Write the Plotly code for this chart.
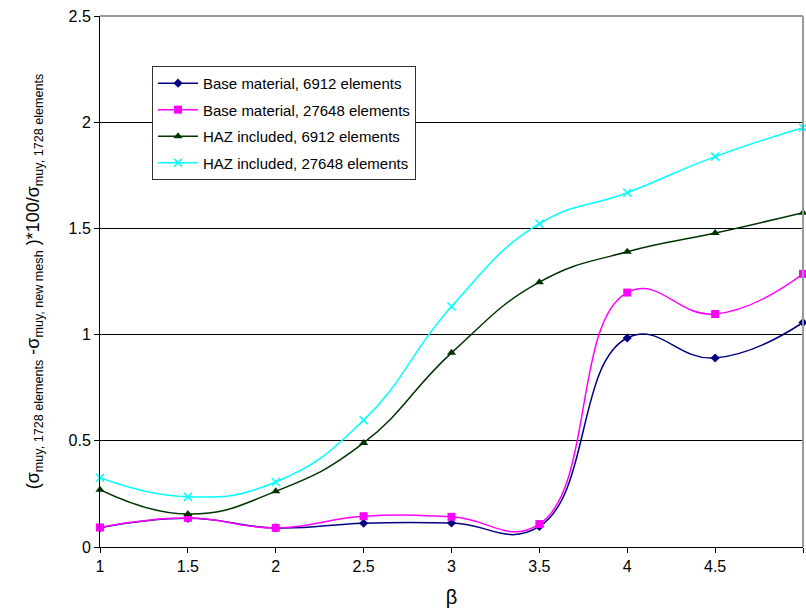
import plotly.graph_objects as go

beta = [1, 1.5, 2, 2.5, 3, 3.5, 4, 4.5, 5]

base_6912 = [0.09, 0.135, 0.09, 0.112, 0.113, 0.097, 0.984, 0.89, 1.057]
base_27648 = [0.092, 0.137, 0.09, 0.145, 0.142, 0.108, 1.198, 1.097, 1.286]
haz_6912 = [0.27, 0.155, 0.262, 0.49, 0.914, 1.247, 1.39, 1.478, 1.574]
haz_27648 = [0.326, 0.236, 0.306, 0.597, 1.132, 1.522, 1.668, 1.838, 1.974]

x_ticks = [1, 1.5, 2, 2.5, 3, 3.5, 4, 4.5, 5]
x_tick_text = ["1", "1.5", "2", "2.5", "3", "3.5", "4", "4.5", "5"]
y_ticks = [0, 0.5, 1, 1.5, 2, 2.5]
y_tick_text = ["0", "0.5", "1", "1.5", "2", "2.5"]

FONT = "Liberation Sans, Arial, sans-serif"

series = [
    ("Base material, 6912 elements", base_6912, "#000080",
     dict(symbol="diamond", size=7)),
    ("Base material, 27648 elements", base_27648, "#FF00FF",
     dict(symbol="square", size=8)),
    ("HAZ included, 6912 elements", haz_6912, "#003300",
     dict(symbol="triangle-up", size=8)),
    ("HAZ included, 27648 elements", haz_27648, "#00FFFF",
     dict(symbol="x-thin", size=8, line=dict(width=1.5, color="#00FFFF"))),
]

fig = go.Figure()
for i, (name, vals, color, mk) in enumerate(series):
    marker = dict(color=color, **mk)
    fig.add_trace(go.Scatter(
        x=beta, y=vals, name=name, mode="lines+markers",
        legendgroup=f"g{i}",
        line=dict(color=color, width=1.5, shape="spline", smoothing=1.3),
        marker=marker, cliponaxis=False,
    ))

fig.update_layout(
    width=806, height=614,
    margin=dict(l=100, r=3, t=16, b=67),
    paper_bgcolor="white", plot_bgcolor="white",
    font=dict(family=FONT, size=15, color="black"),
    showlegend=True,
    legend=dict(
        x=0.074, y=0.906, xanchor="left", yanchor="top",
        bgcolor="white", bordercolor="#333333", borderwidth=1,
        font=dict(family=FONT, size=15, color="black"),
        tracegroupgap=4, itemwidth=40,
    ),
    xaxis=dict(
        range=[1, 5], tickvals=x_ticks, ticktext=x_tick_text,
        showgrid=False, zeroline=False,
        showline=True, linecolor="black", linewidth=1,
        ticks="outside", ticklen=5, tickcolor="black",
        tickfont=dict(family=FONT, size=16),
        title=dict(text="β", font=dict(family=FONT, size=20), standoff=15),
    ),
    yaxis=dict(
        range=[0, 2.5], tickvals=y_ticks, ticktext=y_tick_text,
        showgrid=True, gridcolor="black", gridwidth=1,
        zeroline=False,
        showline=True, linecolor="black", linewidth=1,
        ticks="outside", ticklen=5, tickcolor="black",
        tickfont=dict(family=FONT, size=16),
        title=dict(
            text="(σ<sub>muy, 1728 elements</sub> -σ<sub>muy, new mesh</sub> )*100/σ<sub>muy, 1728 elements</sub>",
            font=dict(family=FONT, size=18), standoff=24,
        ),
    ),
    shapes=[
        dict(type="line", xref="paper", yref="paper", x0=0, x1=1, y0=1, y1=1,
             line=dict(color="#999999", width=2)),
        dict(type="line", xref="paper", yref="paper", x0=1, x1=1, y0=0, y1=1,
             line=dict(color="#999999", width=2)),
    ],
)

fig.write_html("out.html")
